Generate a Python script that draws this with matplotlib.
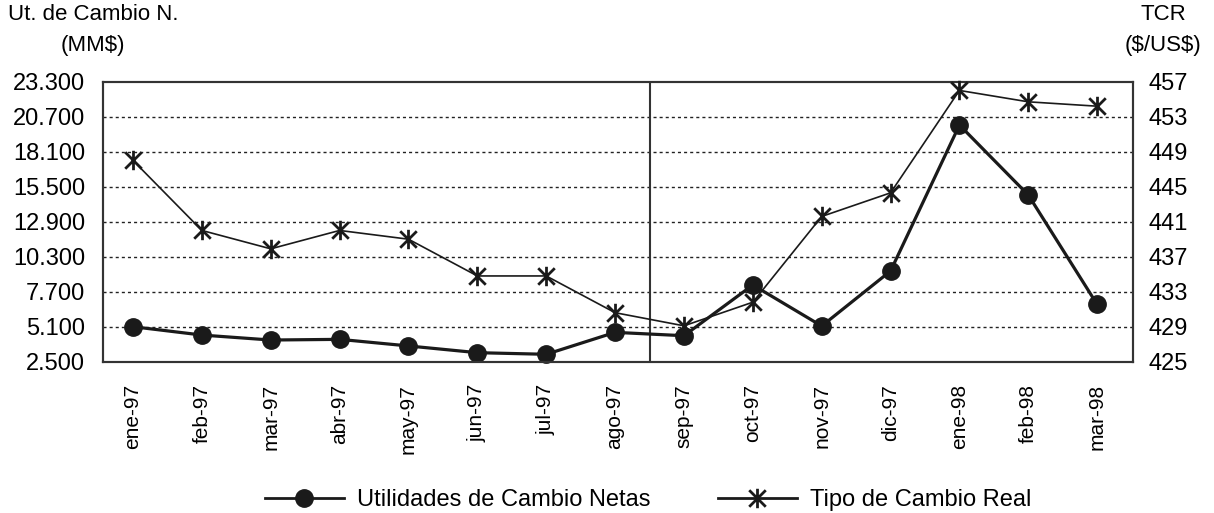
import matplotlib
matplotlib.use("Agg")
import matplotlib.pyplot as plt
from matplotlib.path import Path
from matplotlib.lines import Line2D

plt.rcParams['font.family'] = ['Liberation Sans', 'DejaVu Sans']

months = ["ene-97", "feb-97", "mar-97", "abr-97", "may-97", "jun-97", "jul-97",
          "ago-97", "sep-97", "oct-97", "nov-97", "dic-97", "ene-98", "feb-98", "mar-98"]
utilidades = [5.1, 4.48, 4.11, 4.16, 3.67, 3.17, 3.05, 4.68, 4.43, 8.2, 5.15, 9.24, 20.08, 14.88, 6.75]
tcr = [448.0, 440.0, 437.9, 440.0, 439.0, 434.8, 434.8, 430.6, 429.1, 431.8, 441.6, 444.3, 456.0, 454.7, 454.2]

left_ticks = [2.5, 5.1, 7.7, 10.3, 12.9, 15.5, 18.1, 20.7, 23.3]
left_labels = ["2.500", "5.100", "7.700", "10.300", "12.900", "15.500", "18.100", "20.700", "23.300"]
right_ticks = [425, 429, 433, 437, 441, 445, 449, 453, 457]
right_labels = [str(v) for v in right_ticks]

FS_Y = 17
FS_X = 15
FS_LEG = 17
FS_TITLE = 16
W, H = 1214, 513
fig = plt.figure(figsize=(W / 100, H / 100), dpi=100)
ax1 = fig.add_axes([102.7 / W, 1 - 361.7 / H, (1133 - 102.7) / W, (361.7 - 81.7) / H])
ax2 = ax1.twinx()

x = list(range(len(months)))
ax1.set_xlim(-0.44, 14.52)
ax1.set_ylim(left_ticks[0], left_ticks[-1])
ax2.set_ylim(right_ticks[0], right_ticks[-1])

# grid
for v in left_ticks[1:-1]:
    ax1.axhline(v, color='#222222', lw=1.0, ls=(0, (2.2, 2.2)), zorder=1)
ax1.axvline(7.5, color='#333333', lw=1.5, zorder=1)

star = Path([(0, -1), (0, 1), (-0.85, -0.85), (0.85, 0.85), (-0.85, 0.85), (0.85, -0.85)],
            [Path.MOVETO, Path.LINETO, Path.MOVETO, Path.LINETO, Path.MOVETO, Path.LINETO])

l1, = ax1.plot(x, utilidades, color='#1a1a1a', lw=2.3, marker='o', ms=12.5,
               markerfacecolor='#1a1a1a', markeredgecolor='#1a1a1a', zorder=4, clip_on=False)
l2, = ax2.plot(x, tcr, color='#1a1a1a', lw=1.2, marker=star, ms=14, mew=2.0,
               markerfacecolor='none', markeredgecolor='#1a1a1a', zorder=3, clip_on=False)

ax1.set_xticks(x)
ax1.set_xticklabels(months, rotation=90, fontsize=FS_X, va='top')
ax1.set_yticks(left_ticks)
ax1.set_yticklabels(left_labels, fontsize=FS_Y)
ax2.set_yticks(right_ticks)
ax2.set_yticklabels(right_labels, fontsize=FS_Y)
ax1.tick_params(axis='x', length=0, pad=16)
ax1.tick_params(axis='y', length=0, pad=12.5)
ax2.tick_params(axis='y', length=0, pad=11.5)

for ax in (ax1, ax2):
    for s in ax.spines.values():
        s.set_color('#333333')
        s.set_linewidth(1.5)

fig.text(93 / W, 1 - 15 / H, "Ut. de Cambio N.", ha='center', va='center', fontsize=FS_TITLE)
fig.text(93 / W, 1 - 45 / H, "(MM\\$)", ha='center', va='center', fontsize=FS_TITLE)
fig.text(1163 / W, 1 - 15 / H, "TCR", ha='center', va='center', fontsize=FS_TITLE)
fig.text(1163 / W, 1 - 45 / H, "(\\$/US\\$)", ha='center', va='center', fontsize=FS_TITLE)

h1 = Line2D([], [], color='#1a1a1a', lw=2.0, marker='o', ms=12.5, markerfacecolor='#1a1a1a')
h2 = Line2D([], [], color='#1a1a1a', lw=2.0, marker=star, ms=14, mew=2.0, markerfacecolor='none')
fig.legend([h1, h2], ["Utilidades de Cambio Netas", "Tipo de Cambio Real"], loc='center',
           bbox_to_anchor=(648 / W, 1 - 500 / H), ncol=2, frameon=False, fontsize=FS_LEG,
           handlelength=3.35, handletextpad=0.55, columnspacing=2.85)

fig.savefig("out.png", dpi=100)
